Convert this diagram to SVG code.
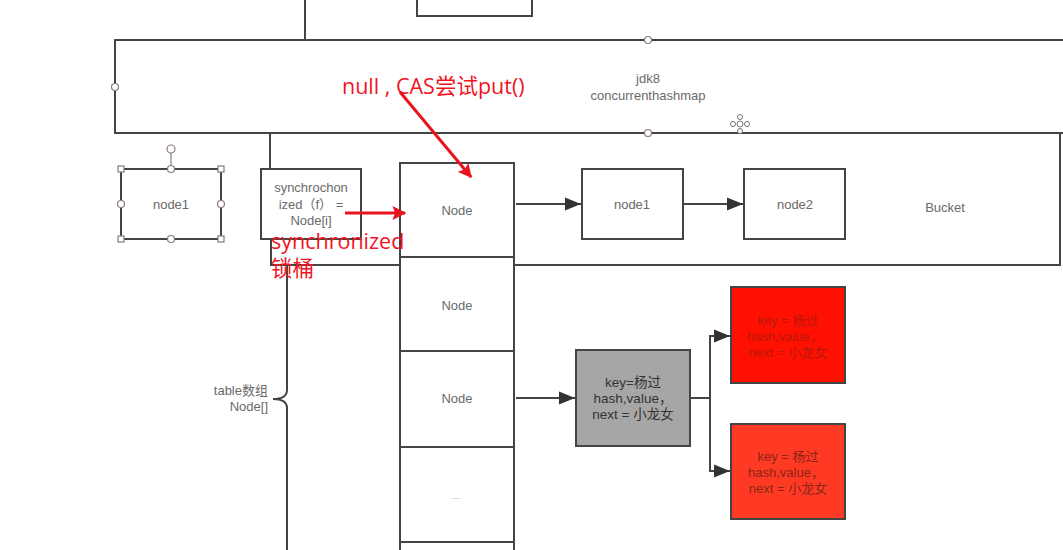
<svg xmlns="http://www.w3.org/2000/svg" width="1063" height="550" viewBox="0 0 1063 550">
<defs>
<style>
.ln{fill:none;stroke:#444;stroke-width:2}
.bx{fill:#fff;stroke:#444;stroke-width:2}
.t{font-family:"Liberation Sans","Noto Sans CJK SC",sans-serif;font-size:13px;fill:#6a6a6a;text-anchor:middle}
.rt{font-family:"Open Sans","Liberation Sans","Noto Sans CJK SC",sans-serif;font-size:21.5px;fill:#f0141e}
.h{fill:#fff;stroke:#8a7a7e;stroke-width:1.2}
.red{stroke:#e8141c;stroke-width:3;fill:none}
</style>
<marker id="ah" viewBox="0 0 10 10" refX="10" refY="5" markerWidth="16" markerHeight="16" markerUnits="userSpaceOnUse" orient="auto">
<path d="M0,1 L10,5 L0,9 Z" fill="#333"/>
</marker>
<marker id="rh" viewBox="0 0 10 10" refX="9" refY="5" markerWidth="14" markerHeight="14" markerUnits="userSpaceOnUse" orient="auto">
<path d="M0,0 L10,5 L0,10 L2,5 Z" fill="#e8141c"/>
</marker>
</defs>
<rect width="1063" height="550" fill="#fff"/>

<g id="top-stub">
<line class="ln" x1="305" y1="0" x2="305" y2="40"/>
<path class="ln" d="M417,0 V16 H532 V0"/>
</g>

<g id="jdk8-container">
<path class="ln" d="M1063,40 H115 V133 H1063"/>
<circle class="h" cx="115" cy="87" r="3.5"/>
<circle class="h" cx="648" cy="40" r="3.5"/>
<circle class="h" cx="648" cy="133" r="3.5"/>
<text class="t" x="648" y="83">jdk8</text>
<text class="t" x="648" y="100">concurrenthashmap</text>
<g fill="#fff" stroke="#777" stroke-width="1">
<circle cx="740" cy="117" r="2.5"/><circle cx="740" cy="131" r="2.5"/>
<circle cx="733" cy="124" r="2.5"/><circle cx="747" cy="124" r="2.5"/>
<circle cx="740" cy="124" r="3"/>
</g>
</g>

<g id="bucket">
<path class="ln" d="M270,133 V169 M271,239 V265 H1060 V133"/>
<text class="t" x="945" y="212">Bucket</text>
</g>

<g id="node1-selected">
<rect class="bx" x="121" y="169" width="100" height="70"/>
<text class="t" x="171" y="209">node1</text>
<line x1="171" y1="153" x2="171" y2="169" stroke="#8a7a7e" stroke-width="1.2"/>
<circle class="h" cx="171" cy="149" r="4"/>
<rect class="h" x="118" y="166" width="6" height="6"/>
<rect class="h" x="218" y="166" width="6" height="6"/>
<rect class="h" x="118" y="236" width="6" height="6"/>
<rect class="h" x="218" y="236" width="6" height="6"/>
<circle class="h" cx="171" cy="169" r="3.5"/>
<circle class="h" cx="171" cy="239" r="3.5"/>
<circle class="h" cx="121" cy="204" r="3.5"/>
<circle class="h" cx="221" cy="204" r="3.5"/>
</g>

<g id="sync-box">
<rect class="bx" x="261" y="169" width="100" height="70"/>
<text class="t" x="311" y="192">synchrochon</text>
<text class="t" x="311" y="209">ized（f）  =</text>
<text class="t" x="311" y="225">Node[i]</text>
</g>

<g id="table-brace">
<path class="ln" d="M287,265 V390 Q287,399 273,399 Q287,399 287,408 V550"/>
<text class="t" x="268" y="395" style="text-anchor:end">table数组</text>
<text class="t" x="268" y="411" style="text-anchor:end">Node[]</text>
</g>

<g id="table">
<rect class="bx" x="400" y="163" width="114" height="400"/>
<line class="ln" x1="400" y1="257" x2="514" y2="257"/>
<line class="ln" x1="400" y1="351" x2="514" y2="351"/>
<line class="ln" x1="400" y1="447" x2="514" y2="447"/>
<line class="ln" x1="400" y1="542" x2="514" y2="542"/>
<text class="t" x="457" y="215">Node</text>
<text class="t" x="457" y="310">Node</text>
<text class="t" x="457" y="403">Node</text>
<text class="t" x="456" y="499" style="font-size:8px;fill:#888">....</text>
</g>

<g id="node1">
<rect class="bx" x="582" y="169" width="101" height="70"/>
<text class="t" x="632" y="209">node1</text>
</g>
<g id="node2">
<rect class="bx" x="744" y="169" width="101" height="70"/>
<text class="t" x="795" y="209">node2</text>
</g>

<g id="gray-node">
<rect x="576" y="350" width="114" height="96" fill="#a6a6a6" stroke="#444" stroke-width="2"/>
<text class="t" x="633" y="387" style="fill:#333;font-size:13.5px">key=杨过</text>
<text class="t" x="633" y="403" style="fill:#333;font-size:13.5px">hash,value，</text>
<text class="t" x="633" y="419" style="fill:#333;font-size:13.5px">next = 小龙女</text>
</g>

<g id="red-node-1">
<rect x="731" y="287" width="114" height="96" fill="#ff1000" stroke="#444" stroke-width="2"/>
<text class="t" x="788" y="325" style="fill:#b8180c">key = 杨过</text>
<text class="t" x="785" y="341" style="fill:#b8180c">hash,value，</text>
<text class="t" x="788" y="357" style="fill:#b8180c">next  =  小龙女</text>
</g>
<g id="red-node-2">
<rect x="731" y="424" width="114" height="95" fill="#ff3a24" stroke="#444" stroke-width="2"/>
<text class="t" x="788" y="461" style="fill:#8c2416">key = 杨过</text>
<text class="t" x="786" y="477" style="fill:#8c2416">hash,value，</text>
<text class="t" x="788" y="493" style="fill:#8c2416">next  =  小龙女</text>
</g>

<g id="connectors">
<line class="ln" x1="516" y1="204" x2="581" y2="204" marker-end="url(#ah)"/>
<line class="ln" x1="684" y1="204" x2="743" y2="204" marker-end="url(#ah)"/>
<line class="ln" x1="516" y1="398" x2="575" y2="398" marker-end="url(#ah)"/>
<path class="ln" d="M690,398 H710 V336 H730" marker-end="url(#ah)"/>
<path class="ln" d="M710,398 V471 H730" marker-end="url(#ah)"/>
</g>

<g id="annotations">
<text class="rt" x="342" y="94">null , CAS尝试put()</text>
<line class="red" x1="400" y1="92" x2="471" y2="177" marker-end="url(#rh)"/>
<line class="red" x1="345" y1="213" x2="405" y2="213" marker-end="url(#rh)"/>
<text class="rt" x="271" y="249">synchronized</text>
<text class="rt" x="271" y="276">锁桶</text>
</g>
</svg>
